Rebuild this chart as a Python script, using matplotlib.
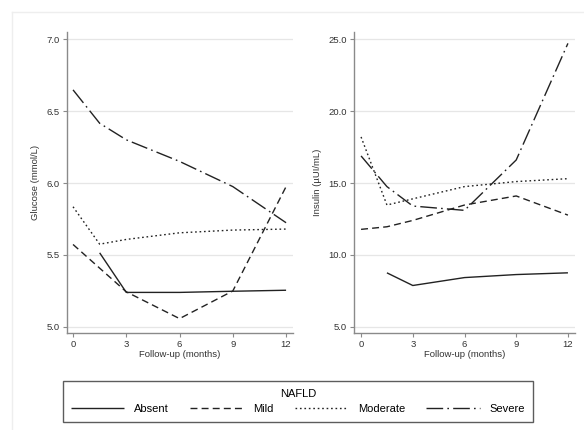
import matplotlib
matplotlib.use("Agg")
import matplotlib.pyplot as plt
from matplotlib.lines import Line2D

plt.rcParams['font.family'] = ['Liberation Sans', 'DejaVu Sans']

months = [0, 1.5, 3, 6, 9, 12]
groups = ["Absent", "Mild", "Moderate", "Severe"]

glucose_absent = [None, 5.515, 5.24, 5.24, 5.248, 5.255]
glucose_mild = [5.573, None, 5.244, 5.058, 5.25, 5.975]
glucose_moderate = [5.835, 5.575, 5.608, 5.654, 5.673, 5.68]
glucose_severe = [6.647, 6.415, 6.30, 6.15, 5.975, 5.724]

insulin_absent = [None, 8.76, 7.88, 8.43, 8.64, 8.76]
insulin_mild = [11.78, 11.96, 12.4, 13.47, 14.1, 12.77]
insulin_moderate = [18.2, 13.47, 13.9, 14.75, 15.1, 15.3]
insulin_severe = [16.88, 14.75, 13.4, 13.1, 16.6, 24.7]

glucose_ticks = [5.0, 5.5, 6.0, 6.5, 7.0]
insulin_ticks = [5.0, 10.0, 15.0, 20.0, 25.0]
x_ticks = [0, 3, 6, 9, 12]

styles = {
    "Absent": (0, ()),
    "Mild": (0, (5, 3)),
    "Moderate": (0, (1.2, 2.0)),
    "Severe": (0, (12, 3, 1.2, 3)),
}
line_color = "#222222"

fig = plt.figure(figsize=(5.84, 4.30), dpi=100)

def panel(rect, series, ticks, ylim, xlim, ylabel):
    ax = fig.add_axes(rect)
    for name, vals in zip(groups, series):
        xs = [m for m, v in zip(months, vals) if v is not None]
        ys = [v for v in vals if v is not None]
        ax.plot(xs, ys, color=line_color, lw=1.0, linestyle=styles[name], label=name)
    ax.set_ylim(*ylim)
    ax.set_xlim(*xlim)
    ax.set_yticks(ticks)
    ax.set_yticklabels([f"{t:.1f}" for t in ticks])
    ax.set_xticks(x_ticks)
    ax.set_xticklabels([str(t) for t in x_ticks])
    for t in ticks:
        ax.axhline(t, color="#e6e6e6", lw=0.9, zorder=0)
    for s in ["top", "right"]:
        ax.spines[s].set_visible(False)
    for s in ["left", "bottom"]:
        ax.spines[s].set_color("#8a8a8a")
        ax.spines[s].set_linewidth(1.0)
    ax.tick_params(axis="both", direction="out", length=3, width=0.8,
                   color="#8a8a8a", labelsize=6.8, labelcolor="#333333", pad=2)
    ax.set_ylabel(ylabel, fontsize=6.8, color="#333333", labelpad=5)
    ax.set_xlabel("Follow-up (months)", fontsize=6.8, color="#333333", labelpad=1)
    return ax

W, H = 584, 430
ax1 = panel([67 / W, 1 - 333 / H, (293 - 67) / W, (333 - 32) / H],
            [glucose_absent, glucose_mild, glucose_moderate, glucose_severe],
            glucose_ticks, (4.958, 7.049), (-0.34, 12.39), "Glucose (mmol/L)")
ax2 = panel([354 / W, 1 - 333 / H, (575 - 354) / W, (333 - 32) / H],
            [insulin_absent, insulin_mild, insulin_moderate, insulin_severe],
            insulin_ticks, (4.58, 25.49), (-0.41, 12.41), "Insulin (\u00b5UI/mL)")

# faint graph-region border
fig.add_artist(Line2D([12 / W, 12 / W], [0, 1 - 12 / H], color="#eeeeee", lw=1))
fig.add_artist(Line2D([12 / W, 1], [1 - 12 / H, 1 - 12 / H], color="#eeeeee", lw=1))

handles, labels = ax1.get_legend_handles_labels()
leg = fig.legend(handles, labels, ncol=4, title="NAFLD",
                 loc="lower left",
                 bbox_to_anchor=(63 / W, 1 - 422 / H, (533 - 63) / W, (422 - 378) / H),
                 mode="expand", frameon=True, fancybox=False,
                 fontsize=8, title_fontsize=8, handlelength=4.8,
                 handletextpad=0.9, columnspacing=1.9, borderpad=0.7,
                 borderaxespad=0, labelspacing=0.5)
leg.get_frame().set_edgecolor("#333333")
leg.get_frame().set_linewidth(1.0)

fig.savefig("out.png", dpi=100, facecolor="white")
